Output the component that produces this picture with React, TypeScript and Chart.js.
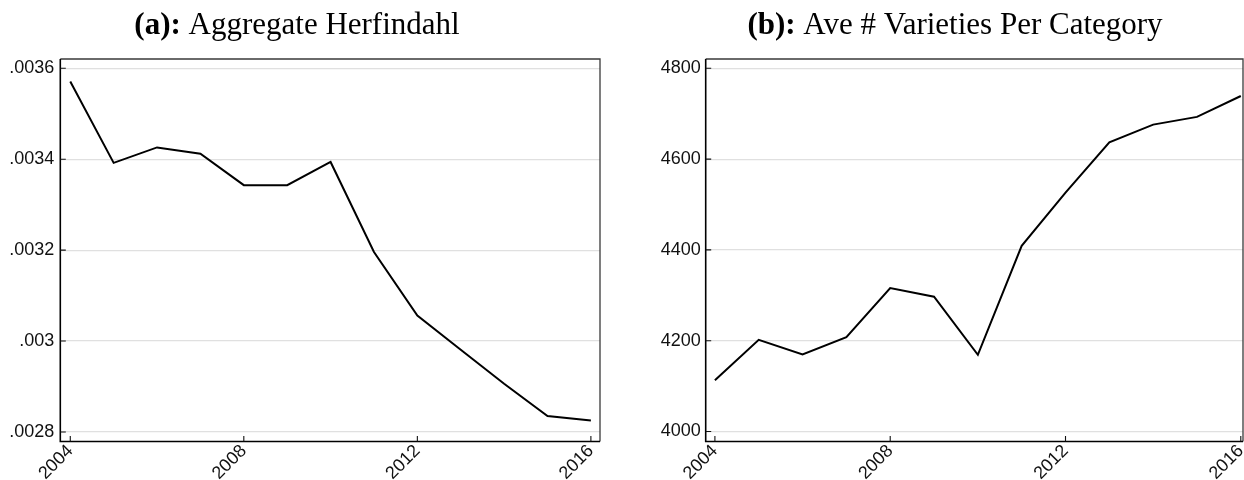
import React, { useEffect, useRef } from 'react';
import { Chart, registerables } from 'chart.js';

Chart.register(...registerables);

// ---- data ----
const years = [2004, 2005, 2006, 2007, 2008, 2009, 2010, 2011, 2012, 2013, 2014, 2015, 2016];
const herfindahl = [0.003571, 0.003392, 0.003426, 0.003412, 0.003343, 0.003343, 0.003394, 0.003196, 0.003056, 0.002981, 0.002906, 0.002835, 0.002825];
const varieties = [4113, 4202, 4170, 4208, 4316, 4297, 4169, 4409, 4526, 4637, 4676, 4693, 4739];
const xTickYears = [2004, 2008, 2012, 2016];
const herfTicks = [0.0028, 0.003, 0.0032, 0.0034, 0.0036];
const varTicks = [4000, 4200, 4400, 4600, 4800];
const titleA = ['(a):', ' Aggregate Herfindahl'];
const titleB = ['(b):', ' Ave # Varieties Per Category'];

const H = 480;

function fmtHerf(v: number) {
  return Number(v.toFixed(5)).toString().replace(/^0\./, '.');
}
function fmtInt(v: number) {
  return String(Math.round(v));
}

function makeConfig(p: any) {
  const framePlugin = {
    id: 'frameTicks',
    afterDatasetsDraw(chart: any) {
      const { ctx, chartArea: a } = chart;
      const xs = chart.scales.x;
      const ys = chart.scales.y;
      ctx.save();
      // top & right frame
      ctx.strokeStyle = '#3a3a3a';
      ctx.lineWidth = 1.3;
      ctx.beginPath();
      ctx.moveTo(a.left, a.top);
      ctx.lineTo(a.right, a.top);
      ctx.lineTo(a.right, a.bottom);
      ctx.stroke();
      // axes
      ctx.strokeStyle = '#000';
      ctx.lineWidth = 1.6;
      ctx.beginPath();
      ctx.moveTo(a.left, a.top);
      ctx.lineTo(a.left, a.bottom);
      ctx.lineTo(a.right, a.bottom);
      ctx.stroke();
      // inward ticks
      ctx.lineWidth = 1.1;
      ctx.strokeStyle = '#111';
      ctx.beginPath();
      for (const v of p.yTicks) {
        const y = ys.getPixelForValue(v);
        ctx.moveTo(a.left, y);
        ctx.lineTo(a.left + 5.5, y);
      }
      for (const v of xTickYears) {
        const x = xs.getPixelForValue(v);
        ctx.moveTo(x, a.bottom);
        ctx.lineTo(x, a.bottom - 5.5);
      }
      ctx.stroke();
      ctx.restore();
    },
    afterDraw(chart: any) {
      const { ctx } = chart;
      ctx.save();
      const boldFont = 'bold 31px "Liberation Serif"';
      const normFont = '31px "Liberation Serif"';
      ctx.font = boldFont;
      const wb = ctx.measureText(p.title[0]).width;
      ctx.font = normFont;
      const wn = ctx.measureText(p.title[1]).width;
      const x0 = p.titleCenter - (wb + wn) / 2;
      ctx.fillStyle = '#000';
      ctx.textBaseline = 'alphabetic';
      ctx.textAlign = 'left';
      ctx.font = boldFont;
      ctx.fillText(p.title[0], x0, 34);
      ctx.font = normFont;
      ctx.fillText(p.title[1], x0 + wb, 34);
      ctx.restore();
    },
  };

  return {
    type: 'line',
    data: {
      datasets: [
        {
          data: years.map((y, i) => ({ x: y, y: p.values[i] })),
          borderColor: '#000',
          borderWidth: 2,
          pointRadius: 0,
          tension: 0,
          fill: false,
        },
      ],
    },
    options: {
      animation: false,
      responsive: false,
      devicePixelRatio: 1,
      layout: {
        padding: { left: 0, top: p.area.top, right: p.width - p.area.right, bottom: 0 },
      },
      plugins: { legend: { display: false }, tooltip: { enabled: false }, title: { display: false } },
      scales: {
        x: {
          type: 'linear',
          min: p.xMin,
          max: p.xMax,
          afterBuildTicks: (s: any) => {
            s.ticks = xTickYears.map((v) => ({ value: v }));
          },
          afterFit: (s: any) => {
            s.height = H - p.area.bottom;
            s.paddingLeft = 0;
            s.paddingRight = 0;
          },
          grid: { display: false, drawTicks: false },
          border: { display: false },
          ticks: {
            autoSkip: false,
            minRotation: 45,
            maxRotation: 45,
            padding: -1,
            color: '#111',
            font: { family: '"Liberation Sans", Arial, sans-serif', size: 18 },
            callback: (v: any) => String(v),
          },
        },
        y: {
          type: 'linear',
          min: p.yMin,
          max: p.yMax,
          afterBuildTicks: (s: any) => {
            s.ticks = p.yTicks.map((v: number) => ({ value: v }));
          },
          afterFit: (s: any) => {
            s.width = p.area.left;
            s.paddingTop = 0;
            s.paddingBottom = 0;
          },
          grid: { color: '#e0e0e0', lineWidth: 1.2, drawTicks: false },
          border: { display: false },
          ticks: {
            padding: p.yPad,
            color: '#111',
            font: { family: '"Liberation Sans", Arial, sans-serif', size: 18 },
            callback: (v: any) => p.fmt(Number(v)),
          },
        },
      },
    },
    plugins: [framePlugin],
  } as any;
}

export default function App() {
  const refA = useRef<HTMLCanvasElement | null>(null);
  const refB = useRef<HTMLCanvasElement | null>(null);

  useEffect(() => {
    const cA = new Chart(
      refA.current as HTMLCanvasElement,
      makeConfig({
        values: herfindahl,
        yTicks: herfTicks,
        yMin: 0.002779,
        yMax: 0.0036205,
        xMin: 2003.77,
        xMax: 2016.21,
        fmt: fmtHerf,
        title: titleA,
        titleCenter: 297,
        width: 620,
        area: { left: 60.3, right: 600, top: 59, bottom: 441.5 },
        yPad: 6,
      })
    );
    const cB = new Chart(
      refB.current as HTMLCanvasElement,
      makeConfig({
        values: varieties,
        yTicks: varTicks,
        yMin: 3978,
        yMax: 4820.5,
        xMin: 2003.79,
        xMax: 2016.05,
        fmt: fmtInt,
        title: titleB,
        titleCenter: 955 - 620,
        width: 624,
        area: { left: 85.7, right: 623, top: 59, bottom: 441.5 },
        yPad: 5,
      })
    );
    return () => {
      cA.destroy();
      cB.destroy();
    };
  }, []);

  return (
    <div style={{ position: 'absolute', left: 0, top: 0, width: 1244, height: H, background: '#fff', overflow: 'hidden' }}>
      <canvas ref={refA} width={620} height={H} style={{ position: 'absolute', left: 0, top: 0, width: 620, height: H }} />
      <canvas ref={refB} width={624} height={H} style={{ position: 'absolute', left: 620, top: 0, width: 624, height: H }} />
    </div>
  );
}
